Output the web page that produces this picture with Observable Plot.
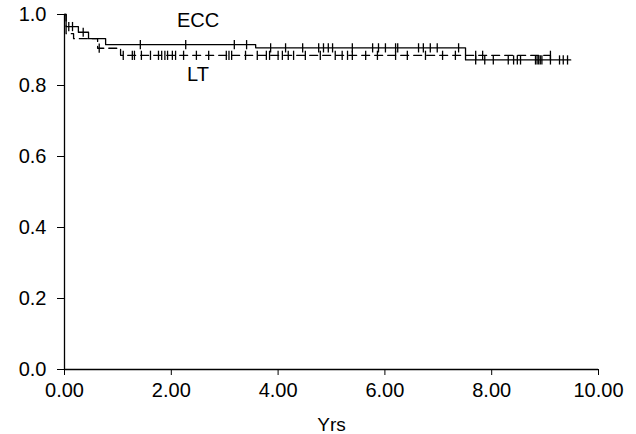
<!DOCTYPE html>
<html>
<head>
<meta charset="utf-8">
<script src="https://cdn.jsdelivr.net/npm/d3@7"></script>
<script src="https://cdn.jsdelivr.net/npm/@observablehq/plot@0.6"></script>
<style>
  html, body { margin: 0; padding: 0; background: #fff; }
</style>
</head>
<body>
<div id="chart"></div>
<script>
// Kaplan-Meier step curves (time in years, survival proportion)
const eccTime = [0, 0.03, 0.26, 0.45, 0.77, 3.58, 7.51, 9.48];
const eccSurv = [1.0, 0.966, 0.95, 0.932, 0.915, 0.906, 0.872, 0.872];
const ltTime = [0, 0.03, 0.17, 0.62, 1.05, 9.10];
const ltSurv = [1.0, 0.946, 0.932, 0.905, 0.885, 0.885];

// Censoring times
const eccCensor = [0.08, 0.15, 0.35, 1.42, 2.27, 3.18, 3.41, 3.86, 4.14, 4.46, 4.76, 4.85, 4.94, 5.02,
  5.39, 5.77, 5.88, 6.01, 6.2, 6.24, 6.63, 6.72, 6.85, 6.98, 7.38, 7.7, 7.87, 8.03, 8.31, 8.41,
  8.48, 8.54, 8.82, 8.85, 8.88, 8.91, 8.94, 9.1, 9.27, 9.34, 9.42];
const ltCensor = [0.65, 1.1, 1.27, 1.31, 1.44, 1.61, 1.76, 1.82, 1.88, 1.93, 2.02, 2.08, 2.23, 2.47,
  2.7, 3.03, 3.08, 3.13, 3.39, 3.61, 3.78, 3.84, 4.0, 4.08, 4.19, 4.29, 4.51, 4.79, 5.07, 5.2,
  5.3, 5.39, 5.64, 5.86, 6.2, 6.42, 6.76, 7.08, 7.32, 7.7, 7.83, 9.1];

const xTicks = [0, 2, 4, 6, 8, 10];
const yTicks = [0, 0.2, 0.4, 0.6, 0.8, 1.0];
const seriesNames = ["ECC", "LT"];
const xTitle = "Yrs";

function steps(times, surv) { return times.map((t, i) => ({t, s: surv[i]})); }
function survAt(times, surv, t) {
  let s = surv[0];
  for (let i = 0; i < times.length; i++) if (times[i] <= t) s = surv[i];
  return s;
}
const ecc = steps(eccTime, eccSurv);
const lt = steps(ltTime, ltSurv);
const eccMarks = eccCensor.map(t => ({t, s: survAt(eccTime, eccSurv, t)}));
const ltMarks = ltCensor.map(t => ({t, s: survAt(ltTime, ltSurv, t)}));
const h = 0.013;

const chart = Plot.plot({
  width: 636,
  height: 434,
  marginLeft: 64,
  marginRight: 38,
  marginTop: 14,
  marginBottom: 65,
  style: {fontFamily: "'Liberation Sans', Arial, sans-serif", fontSize: "20px", color: "#000", background: "#fff"},
  x: {domain: [0, 10], ticks: xTicks, tickFormat: d3.format(".2f"), tickSize: 6, tickPadding: 7, label: null},
  y: {domain: [0, 1], ticks: yTicks, tickFormat: d3.format(".1f"), tickSize: 7, tickPadding: 11, label: null},
  marks: [
    Plot.ruleX([0], {stroke: "#000", strokeWidth: 1.3}),
    Plot.ruleY([0], {stroke: "#000", strokeWidth: 1.3}),
    Plot.line(ecc, {x: "t", y: "s", curve: "step-after", stroke: "#000", strokeWidth: 1.3}),
    Plot.line(lt, {x: "t", y: "s", curve: "step-after", stroke: "#000", strokeWidth: 1.3, strokeDasharray: "8,5"}),
    Plot.link(eccMarks, {x1: "t", x2: "t", y1: d => d.s - h, y2: d => d.s + h, stroke: "#000", strokeWidth: 1.3}),
    Plot.link(ltMarks, {x1: "t", x2: "t", y1: d => d.s - h, y2: d => d.s + h, stroke: "#000", strokeWidth: 1.3}),
    Plot.text([seriesNames[0]], {x: 2.5, y: 0.966, text: d => d, textAnchor: "middle", lineAnchor: "bottom", fontSize: 20}),
    Plot.text([seriesNames[1]], {x: 2.5, y: 0.813, text: d => d, textAnchor: "middle", lineAnchor: "bottom", fontSize: 20}),
    Plot.text([xTitle], {frameAnchor: "bottom", dy: 61, text: d => d, lineAnchor: "bottom", fontSize: 19})
  ]
});
document.getElementById("chart").appendChild(chart);
</script>
</body>
</html>
